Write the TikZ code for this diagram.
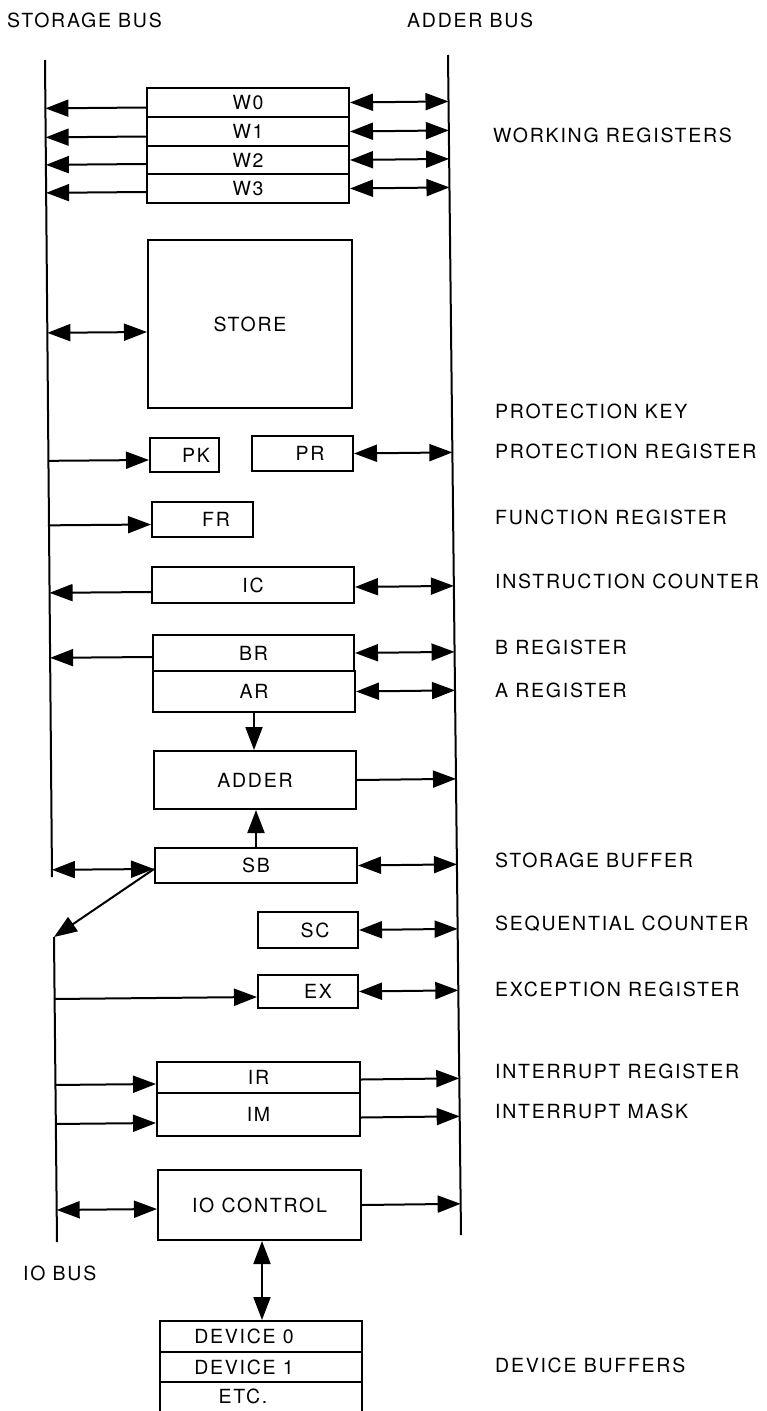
\documentclass[tikz,border=0pt]{standalone}
\usepackage{fontspec}
\setmainfont{TeX Gyre Heros}[LetterSpace=9]
\usetikzlibrary{arrows.meta,calc}
\newcommand\regfont{\fontsize{19.5}{22}\selectfont}
\tikzset{
  reg/.style={draw, line width=2pt, inner sep=0pt, font=\regfont},
  bare/.style={inner sep=0pt, font=\regfont},
  busline/.style={line width=2pt},
  edge/.style={line width=2pt},
  arr/.style={line width=2pt, -{Triangle[length=23pt,width=17pt]}},
  darr/.style={line width=2pt, {Triangle[length=23pt,width=17pt]}-{Triangle[length=23pt,width=17pt]}},
  lbl/.style={anchor=west, inner sep=0pt, font=\regfont},
}
\begin{document}
\begin{tikzpicture}[x=1pt,y=-1pt]
\useasboundingbox (0,0) rectangle (766,1411);
% buses
\coordinate (sbT) at (45,60);
\coordinate (sbB) at (52,877);
\coordinate (abT) at (448,55);
\coordinate (abB) at (461,1235);
\coordinate (ioT) at (54,937);
\coordinate (ioB) at (57,1242);
\draw[busline] (sbT) -- (sbB);
\draw[busline] (abT) -- (abB);
\draw[busline] (ioT) -- (ioB);

% registers
\node[reg, minimum width=202pt, minimum height=29pt] (w0) at (248,102.5) {W0};
\node[reg, minimum width=202pt, minimum height=29pt] (w1) at (248,131.5) {W1};
\node[reg, minimum width=202pt, minimum height=28pt] (w2) at (248,160) {W2};
\node[reg, minimum width=202pt, minimum height=29pt] (w3) at (248,188.5) {W3};
\node[reg, minimum width=204pt, minimum height=168pt] (store) at (250,324) {STORE};
\node[reg, minimum width=69pt, minimum height=34pt] (pk) at (184.5,455) {\hspace*{23pt}PK};
\node[reg, minimum width=101pt, minimum height=35pt] (pr) at (302.5,453.5) {\hspace*{15pt}PR};
\node[reg, minimum width=101pt, minimum height=35pt] (fr) at (202.5,519.5) {\hspace*{27pt}FR};
\node[reg, minimum width=202pt, minimum height=36pt] (ic) at (253,585) {IC};
\node[reg, minimum width=201pt, minimum height=36pt] (br) at (253.5,653) {BR};
\node[reg, minimum width=202pt, minimum height=41pt] (ar) at (254,691.5) {AR};
\node[reg, minimum width=202pt, minimum height=58pt] (adder) at (255,780) {ADDER};
\node[reg, minimum width=202pt, minimum height=35pt] (sb) at (256,865.5) {SB};
\node[reg, minimum width=100pt, minimum height=36pt] (sc) at (308,930) {\hspace*{14pt}SC};
\node[reg, minimum width=100pt, minimum height=33pt] (ex) at (308,991.5) {\hspace*{20pt}EX};
\node[reg, minimum width=203pt, minimum height=31pt] (ir) at (258.5,1077.5) {IR};
\node[reg, minimum width=203pt, minimum height=43pt] (im) at (258.5,1114.5) {IM};
\node[reg, minimum width=203pt, minimum height=70pt] (ioc) at (259.5,1205) {IO CONTROL};
\node[reg, minimum width=202pt, minimum height=31pt] (dev0) at (261,1336.5) {DEVICE 0\hspace*{34pt}};
\node[reg, minimum width=202pt, minimum height=30pt] (dev1) at (261,1367) {DEVICE 1\hspace*{34pt}};
\node[bare, minimum width=202pt, minimum height=29pt] (etc) at (261,1396.5) {ETC.\hspace*{36pt}};
\draw[edge] (etc.north west) -- (etc.south west);
\draw[edge] (etc.north east) -- (etc.south east);

% storage bus connections
\draw[arr] ([yshift=-5pt]w0.west) -- ($(sbT)!([yshift=-5pt]w0.west)!(sbB)$);
\draw[arr] ([yshift=-5pt]w1.west) -- ($(sbT)!([yshift=-5pt]w1.west)!(sbB)$);
\draw[arr] ([yshift=-4pt]w2.west) -- ($(sbT)!([yshift=-4pt]w2.west)!(sbB)$);
\draw[arr] ([yshift=-3.5pt]w3.west) -- ($(sbT)!([yshift=-3.5pt]w3.west)!(sbB)$);
\draw[darr] ($(sbT)!([yshift=-8pt]store.west)!(sbB)$) -- ([yshift=-8pt]store.west);
\draw[arr] ($(sbT)!([yshift=-5pt]pk.west)!(sbB)$) -- ([yshift=-5pt]pk.west);
\draw[arr] ($(sbT)!([yshift=-5pt]fr.west)!(sbB)$) -- ([yshift=-5pt]fr.west);
\draw[arr] ([yshift=-7pt]ic.west) -- ($(sbT)!([yshift=-7pt]ic.west)!(sbB)$);
\draw[arr] ([yshift=-4pt]br.west) -- ($(sbT)!([yshift=-4pt]br.west)!(sbB)$);
\draw[darr] ($(sbT)!([yshift=-3.5pt]sb.west)!(sbB)$) -- ([yshift=-3.5pt]sb.west);

% adder bus connections
\draw[darr] (w0.east) -- ($(abT)!(w0.east)!(abB)$);
\draw[darr] (w1.east) -- ($(abT)!(w1.east)!(abB)$);
\draw[darr] (w2.east) -- ($(abT)!(w2.east)!(abB)$);
\draw[darr] (w3.east) -- ($(abT)!(w3.east)!(abB)$);
\draw[darr] (pr.east) -- ($(abT)!(pr.east)!(abB)$);
\draw[darr] ([yshift=-2pt]ic.east) -- ($(abT)!([yshift=-2pt]ic.east)!(abB)$);
\draw[darr] (br.east) -- ($(abT)!(br.east)!(abB)$);
\draw[darr] (ar.east) -- ($(abT)!(ar.east)!(abB)$);
\draw[arr] (adder.east) -- ($(abT)!(adder.east)!(abB)$);
\draw[darr] (sb.east) -- ($(abT)!(sb.east)!(abB)$);
\draw[darr] (sc.east) -- ($(abT)!(sc.east)!(abB)$);
\draw[darr] (ex.east) -- ($(abT)!(ex.east)!(abB)$);
\draw[arr] ([yshift=-2pt]ir.east) -- ($(abT)!([yshift=-2pt]ir.east)!(abB)$);
\draw[arr] ([yshift=-3pt]im.east) -- ($(abT)!([yshift=-3pt]im.east)!(abB)$);
\draw[arr] (ioc.east) -- ($(abT)!(ioc.east)!(abB)$);

% internal
\draw[arr] (ar.south) -- (ar.south |- adder.north);
\draw[arr] (sb.north) -- (sb.north |- adder.south);
\draw[arr] ([yshift=-3.5pt]sb.west) -- (ioT);
\draw[darr] ([xshift=2.5pt]ioc.south) -- ([xshift=2.5pt]ioc.south |- dev0.north);

% io bus connections
\draw[arr] ($(ioT)!([yshift=-5.5pt]ex.west)!(ioB)$) -- ([yshift=-5.5pt]ex.west);
\draw[arr] ($(ioT)!([yshift=-6.5pt]ir.west)!(ioB)$) -- ([yshift=-6.5pt]ir.west);
\draw[arr] ($(ioT)!([yshift=-8.5pt]im.west)!(ioB)$) -- ([yshift=-8.5pt]im.west);
\draw[darr] ($(ioT)!([yshift=-4pt]ioc.west)!(ioB)$) -- ([yshift=-4pt]ioc.west);

% labels
\node[lbl] (tsb) at (7,20) {STORAGE BUS};
\node[lbl] (tab) at (407,20) {ADDER BUS};
\node[lbl] (twr) at (493,135) {WORKING REGISTERS};
\node[lbl] (tpk) at (495,411) {PROTECTION KEY};
\node[lbl] (tpr) at (495,451) {PROTECTION REGISTER};
\node[lbl] (tfr) at (495,517) {FUNCTION REGISTER};
\node[lbl] (tic) at (495,581) {INSTRUCTION COUNTER};
\node[lbl] (tbr) at (495,647) {B REGISTER};
\node[lbl] (tar) at (495,690) {A REGISTER};
\node[lbl] (tsbuf) at (495,860) {STORAGE BUFFER};
\node[lbl] (tsc) at (495,924) {SEQUENTIAL COUNTER};
\node[lbl] (tex) at (495,989) {EXCEPTION REGISTER};
\node[lbl] (tir) at (495,1071) {INTERRUPT REGISTER};
\node[lbl] (tim) at (495,1111) {INTERRUPT MASK};
\node[lbl] (tdb) at (495,1365) {DEVICE BUFFERS};
\node[lbl] (tio) at (23,1273) {IO BUS};
\end{tikzpicture}
\end{document}
